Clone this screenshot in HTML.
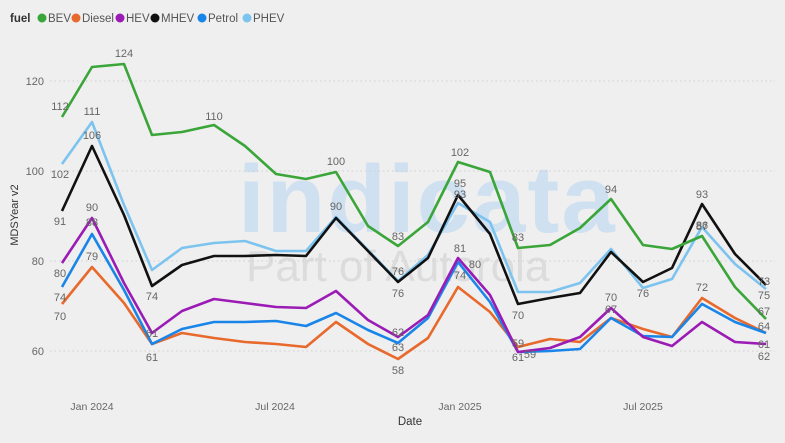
<!DOCTYPE html>
<html><head><meta charset="utf-8"><style>
html,body{margin:0;padding:0;background:#efefef;}
svg{display:block;font-family:"Liberation Sans",sans-serif;}
</style></head><body>
<svg width="785" height="443" viewBox="0 0 785 443" xmlns="http://www.w3.org/2000/svg">
<rect width="785" height="443" fill="#efefef"/>
<!-- watermark -->
<text x="238" y="232" font-size="96" font-weight="bold" fill="#cfe0f1" letter-spacing="2">indicata</text>
<text x="246" y="281" font-size="44" fill="#dcdcdc">Part of Autorola</text>
<!-- legend -->
<g font-size="11.5" fill="#555">
<text x="10" y="22" font-weight="bold" fill="#333">fuel</text>
<circle cx="42" cy="18" r="4.5" fill="#3aa539"/><text x="48" y="22">BEV</text>
<circle cx="76" cy="18" r="4.5" fill="#e8692c"/><text x="82" y="22">Diesel</text>
<circle cx="120" cy="18" r="4.5" fill="#9b1bb5"/><text x="126" y="22">HEV</text>
<circle cx="155" cy="18" r="4.5" fill="#111"/><text x="161" y="22">MHEV</text>
<circle cx="202" cy="18" r="4.5" fill="#1a85e8"/><text x="208" y="22">Petrol</text>
<circle cx="247" cy="18" r="4.5" fill="#7cc4ef"/><text x="253" y="22">PHEV</text>
</g>
<!-- grid -->
<g stroke="#cfcfcf" stroke-dasharray="1.5,3">
<line x1="50" y1="81" x2="775" y2="81"/><line x1="50" y1="171" x2="775" y2="171"/>
<line x1="50" y1="261" x2="775" y2="261"/><line x1="50" y1="351" x2="775" y2="351"/>
</g>
<g font-size="11" fill="#666" text-anchor="end">
<text x="44" y="85">120</text><text x="44" y="175">100</text><text x="44" y="265">80</text><text x="44" y="355">60</text>
</g>
<text transform="translate(18,215) rotate(-90)" font-size="11" fill="#333" text-anchor="middle">MDSYear v2</text>
<g font-size="10.5" fill="#666" text-anchor="middle">
<text x="92" y="410">Jan 2024</text><text x="275" y="410">Jul 2024</text><text x="460" y="410">Jan 2025</text><text x="643" y="410">Jul 2025</text>
</g>
<text x="410" y="425" font-size="11.5" fill="#333" text-anchor="middle">Date</text>
<g fill="none" stroke-width="2.6" stroke-linejoin="round">
<polyline stroke="#e8692c" points="62,304 92,267 124,303 152,344 182,333 214,338 245,342 276,344 306,347 336,322 368,344 398,359 428,338 458,287 490,312 518,347 550,339 580,342 611,318 643,329 672,337 702,298 735,318 766,333"/>
<polyline stroke="#1a85e8" points="62,287 92,234 124,290 152,344 182,329 214,322 245,322 276,321 306,326 336,313 368,330 398,343 428,318 458,262 490,302 518,352 550,351 580,349 611,318 643,336 672,337 702,304 735,322 766,333"/>
<polyline stroke="#9b1bb5" points="62,263 92,218 124,283 152,333 182,311 214,299 245,303 276,307 306,308 336,291 368,320 398,337 428,315 458,258 490,295 518,352 550,348 580,337 611,308 643,337 672,346 702,322 735,342 766,344"/>
<polyline stroke="#7cc4ef" points="62,164 92,122 124,205 152,270 182,248 214,243 245,241 276,251 306,251 336,217 368,250 398,281 428,255 458,203 490,222 518,292 550,292 580,283 611,249 643,288 672,279 702,227 735,264 766,289"/>
<polyline stroke="#111" points="62,211 92,146 124,215 152,286 182,265 214,256 245,256 276,255 306,256 336,218 368,251 398,282 428,258 458,195 490,234 518,304 550,298 580,293 611,252 643,282 672,268 702,204 735,254 766,285"/>
<polyline stroke="#3aa539" points="62,117 92,67 124,64 152,135 182,132 214,125 245,146 276,174 306,179 336,172 368,226 398,246 428,222 458,162 490,172 518,248 550,245 580,228 611,199 643,245 672,249 702,236 735,287 766,319"/>
</g>
<g font-size="11" fill="#666" text-anchor="middle">
<text x="60" y="110">112</text><text x="124" y="57">124</text><text x="214" y="120">110</text><text x="336" y="165">100</text><text x="398" y="240">83</text><text x="460" y="156">102</text><text x="518" y="241">83</text><text x="611" y="193">94</text><text x="702" y="230">87</text><text x="764" y="330">64</text>
<text x="92" y="115">111</text><text x="60" y="178">102</text><text x="398" y="275">76</text><text x="702" y="229">86</text><text x="764" y="299">75</text>
<text x="92" y="139">106</text><text x="60" y="225">91</text><text x="152" y="300">74</text><text x="336" y="210">90</text><text x="398" y="297">76</text><text x="460" y="187">95</text><text x="460" y="198">93</text><text x="518" y="319">70</text><text x="643" y="297">76</text><text x="702" y="198">93</text><text x="764" y="285">73</text>
<text x="92" y="211">90</text><text x="60" y="277">80</text><text x="92" y="226">88</text><text x="152" y="337">61</text><text x="398" y="336">62</text><text x="460" y="252">81</text><text x="475" y="268">80</text><text x="611" y="301">70</text><text x="764" y="348">61</text>
<text x="92" y="260">79</text><text x="60" y="301">74</text><text x="152" y="361">61</text><text x="398" y="351">63</text><text x="460" y="279">74</text><text x="518" y="361">61</text><text x="530" y="358">59</text><text x="611" y="313">67</text><text x="764" y="360">62</text>
<text x="60" y="320">70</text><text x="398" y="374">58</text><text x="518" y="347">59</text><text x="702" y="291">72</text><text x="764" y="315">67</text>
</g>
</svg>
</body></html>
